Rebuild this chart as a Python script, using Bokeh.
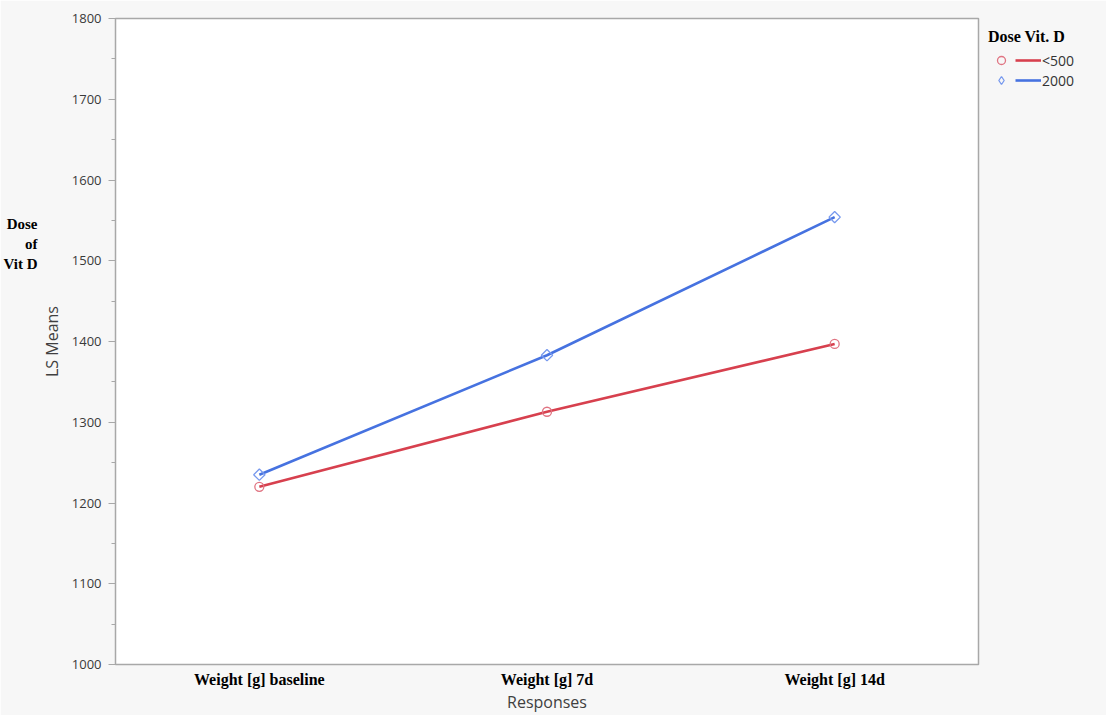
import math
from bokeh.plotting import figure
from bokeh.models import (FactorRange, Range1d, SingleIntervalTicker, FixedTicker,
                          LinearAxis, Legend, LegendItem)
from bokeh.embed import file_html
from bokeh.resources import INLINE

# ---- data ----
responses = ["Weight [g] baseline", "Weight [g] 7d", "Weight [g] 14d"]
dose_groups = ["<500", "2000"]
ls_means_lt500 = [1220, 1313, 1397]
ls_means_2000 = [1235, 1383, 1554]
note_text = "Dose\nof\nVit D"
y_ticks_interval = 100

# layout constant: height (in y units) at which the side note sits
NOTE_AT = 1521

red = "#d7404e"
blue = "#4672e0"
red_mk = "#e07482"
blue_mk = "#7799ee"

p = figure(
    x_range=FactorRange(*responses),
    y_range=Range1d(1000, 1800),
    frame_width=863, frame_height=646,
    min_border_left=115, min_border_top=18, min_border_bottom=50, min_border_right=120,
    output_backend="svg", toolbar_location=None,
)
p.border_fill_color = "#f7f7f7"
p.background_fill_color = "white"
p.outline_line_color = "#a8a8a8"
p.outline_line_width = 1.5
p.xgrid.visible = False
p.ygrid.visible = False

l1 = p.line(responses, ls_means_lt500, line_color=red, line_width=2.6)
l2 = p.line(responses, ls_means_2000, line_color=blue, line_width=2.6)
m1 = p.scatter(responses, ls_means_lt500, marker="circle", size=9, fill_alpha=0,
               line_color=red_mk, line_width=1.3)
m2 = p.scatter(responses, ls_means_2000, marker="square", angle=math.pi / 4, size=8,
               fill_alpha=0, line_color=blue_mk, line_width=1.3)
# hidden twin used only for the legend swatch (legend ignores marker angle)
m2_leg = p.scatter(responses, ls_means_2000, marker="diamond", size=12, fill_alpha=0,
                   line_color=blue_mk, line_width=1.3, visible=False)

# y axis
ya = p.yaxis[0]
ya.ticker = SingleIntervalTicker(interval=y_ticks_interval, num_minor_ticks=2)
ya.axis_label = "LS Means"
ya.axis_label_text_font = "Open Sans"
ya.axis_label_text_font_style = "normal"
ya.axis_label_text_font_size = "16px"
ya.axis_label_text_color = "#404040"
ya.axis_label_standoff = 6
ya.major_label_text_font = "Open Sans"
ya.major_label_text_font_size = "13px"
ya.major_label_text_color = "#3a3a3a"
ya.major_label_standoff = 7
ya.major_tick_out = 7
ya.major_tick_in = 0
ya.minor_tick_out = 4
ya.minor_tick_in = 0
ya.axis_line_color = "#a8a8a8"
ya.major_tick_line_color = "#a8a8a8"
ya.minor_tick_line_color = "#a8a8a8"

# "Dose of Vit D" side note: an extra, line-less left axis with one labelled tick
note_axis = LinearAxis(ticker=FixedTicker(ticks=[NOTE_AT]),
                       major_label_overrides={NOTE_AT: note_text})
note_axis.axis_line_color = None
note_axis.major_tick_line_color = None
note_axis.minor_tick_line_color = None
note_axis.major_tick_out = 0
note_axis.major_tick_in = 0
note_axis.major_label_standoff = 0
note_axis.major_label_text_font = "Liberation Serif"
note_axis.major_label_text_font_style = "bold"
note_axis.major_label_text_font_size = "15px"
note_axis.major_label_text_color = "black"
note_axis.major_label_text_line_height = 1.25
p.add_layout(note_axis, "left")

# x axis
xa = p.xaxis[0]
xa.axis_label = "Responses"
xa.axis_label_text_font = "Open Sans"
xa.axis_label_text_font_style = "normal"
xa.axis_label_text_font_size = "16px"
xa.axis_label_text_color = "#404040"
xa.axis_label_standoff = 0
xa.major_label_text_font = "Liberation Serif"
xa.major_label_text_font_style = "bold"
xa.major_label_text_font_size = "16px"
xa.major_label_text_color = "black"
xa.major_label_standoff = 0
xa.major_tick_line_color = None
xa.axis_line_color = "#a8a8a8"

# legend
items = [
    LegendItem(label=" ", renderers=[m1]),
    LegendItem(label=" ", renderers=[m2_leg]),
    LegendItem(label=dose_groups[0], renderers=[l1]),
    LegendItem(label=dose_groups[1], renderers=[l2]),
]
leg = Legend(items=items, nrows=2, location="top_left")
leg.title = "Dose Vit. D"
leg.title_text_font = "Liberation Serif"
leg.title_text_font_style = "bold"
leg.title_text_font_size = "16px"
leg.title_text_color = "black"
leg.title_standoff = 4
leg.label_text_font = "Open Sans"
leg.label_text_font_size = "14px"
leg.label_text_color = "#333333"
leg.label_standoff = 1
leg.glyph_width = 26
leg.glyph_height = 20
leg.label_height = 20
leg.label_width = 0
leg.spacing = 0
leg.padding = 12
leg.margin = 10
leg.background_fill_alpha = 0
leg.border_line_color = None
p.add_layout(leg, "right")

open("out.html", "w").write(file_html(p, INLINE))
